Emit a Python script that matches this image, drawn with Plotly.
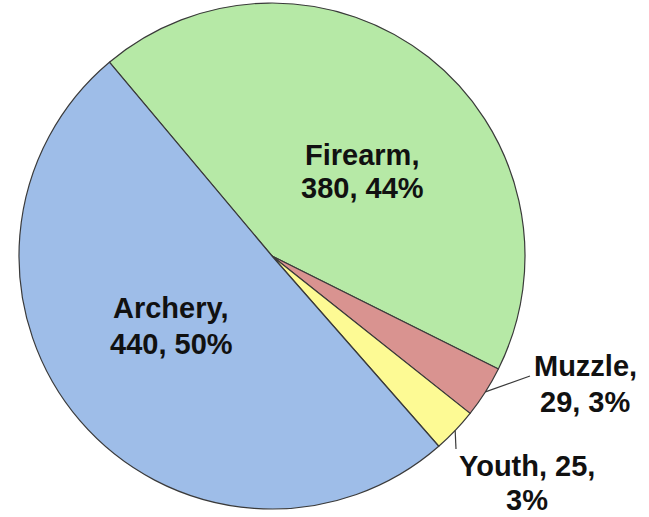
import math
import plotly.graph_objects as go

# Hunting licence types
labels = ["Firearm", "Muzzle", "Youth", "Archery"]
values = [380, 29, 25, 440]
pct_labels = [44, 3, 3, 50]

colors = ["#b6e9a6", "#d99390", "#fdfa94", "#9ebde8"]

W, H = 649, 517
# pie box in pixels (left, right, top, bottom)
box = (18, 526, 3, 509)
rotation = -40

# label layout: x centre, y centre of each line, and how many words go on line 1
label_layout = {
    "Firearm": dict(x=362, ys=(155, 188), split=1),
    "Archery": dict(x=171, ys=(308, 344), split=1),
    "Muzzle": dict(x=585, ys=(366, 402), split=1),
    "Youth": dict(x=527, ys=(466, 500), split=2),
}
# leader line end offsets (pixels) for the small outside slices
leader_end = {"Muzzle": (530, 376), "Youth": (456, 449)}


def px(x, y):
    return x / W, 1 - y / H


fig = go.Figure(
    go.Pie(
        labels=labels,
        values=values,
        sort=False,
        direction="clockwise",
        rotation=rotation,
        marker=dict(colors=colors, line=dict(color="#3a3a3a", width=1.2)),
        textinfo="none",
        hoverinfo="label+value+percent",
        domain=dict(x=[box[0] / W, box[1] / W], y=[1 - box[3] / H, 1 - box[2] / H]),
        showlegend=False,
    )
)

cx = (box[0] + box[1]) / 2
cy = (box[2] + box[3]) / 2
r = min(box[1] - box[0], box[3] - box[2]) / 2
total = sum(values)

annotations = []
shapes = []
start = rotation
for lab, val, pct in zip(labels, values, pct_labels):
    span = val / total * 360
    mid = math.radians(start + span / 2)
    start += span

    words = f"{lab}, {val}, {pct}%".split(" ")
    lay = label_layout[lab]
    lines = [" ".join(words[: lay["split"]]), " ".join(words[lay["split"]:])]
    for text, y in zip(lines, lay["ys"]):
        ax, ay = px(lay["x"], y)
        annotations.append(
            dict(
                x=ax, y=ay, xref="paper", yref="paper",
                text=f"<b>{text}</b>", showarrow=False,
                xanchor="center", yanchor="middle",
                font=dict(family="Liberation Sans, Arial, sans-serif", size=29, color="#111111"),
            )
        )

    if lab in leader_end:
        sx = cx + r * math.sin(mid)
        sy = cy - r * math.cos(mid)
        x0, y0 = px(sx, sy)
        x1, y1 = px(*leader_end[lab])
        shapes.append(
            dict(type="line", xref="paper", yref="paper", x0=x0, y0=y0, x1=x1, y1=y1,
                 line=dict(color="#3a3a3a", width=1.2))
        )

fig.update_layout(
    width=W,
    height=H,
    margin=dict(l=0, r=0, t=0, b=0),
    paper_bgcolor="white",
    plot_bgcolor="white",
    annotations=annotations,
    shapes=shapes,
)

fig.write_html("out.html")
